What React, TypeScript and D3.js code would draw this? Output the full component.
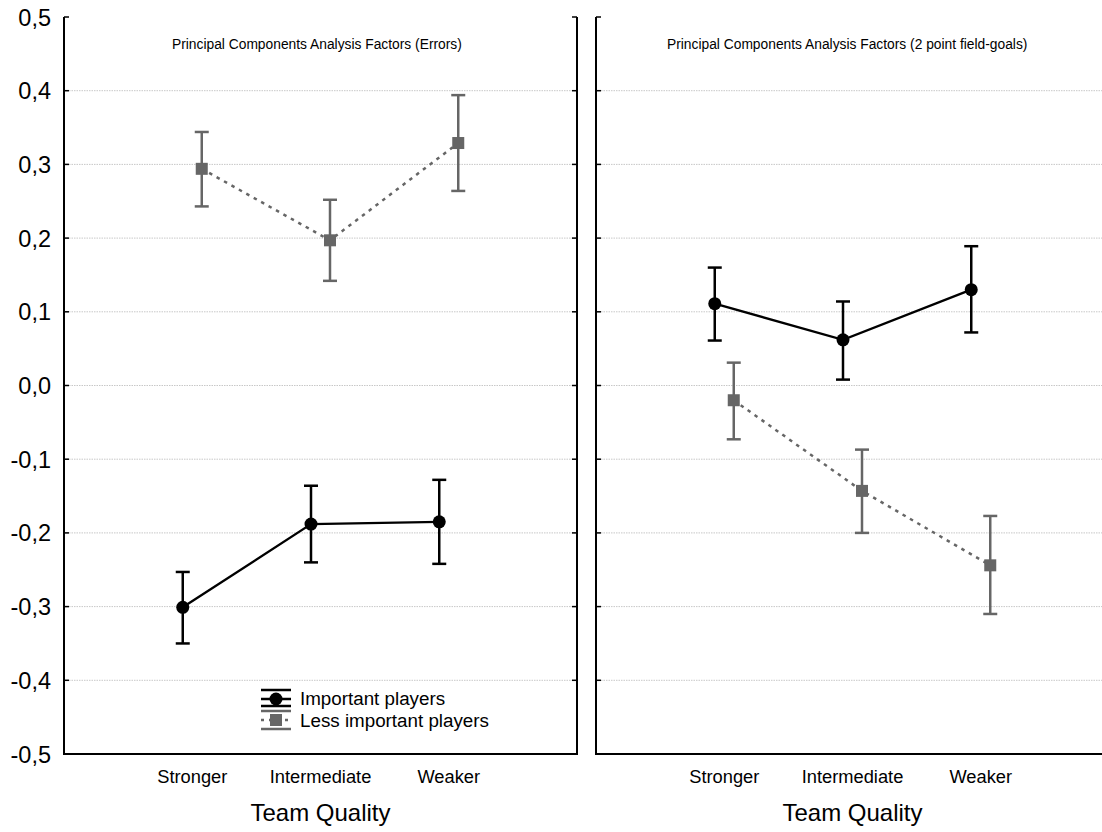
import * as d3 from "d3";

// categories & values
const categories = ["Stronger", "Intermediate", "Weaker"];

// left panel: Errors
const errImpMean = [-0.301, -0.188, -0.185];
const errImpLow = [-0.35, -0.24, -0.242];
const errImpHigh = [-0.253, -0.136, -0.128];
const errLessMean = [0.294, 0.197, 0.329];
const errLessLow = [0.243, 0.142, 0.264];
const errLessHigh = [0.344, 0.252, 0.394];

// right panel: 2 point field-goals
const fgImpMean = [0.111, 0.062, 0.13];
const fgImpLow = [0.061, 0.008, 0.072];
const fgImpHigh = [0.16, 0.114, 0.189];
const fgLessMean = [-0.02, -0.143, -0.244];
const fgLessLow = [-0.073, -0.2, -0.31];
const fgLessHigh = [0.031, -0.087, -0.177];

const yTicks = [-0.5, -0.4, -0.3, -0.2, -0.1, 0, 0.1, 0.2, 0.3, 0.4, 0.5];

const FONT = "'Liberation Sans', Arial, sans-serif";
const GRAY = "#666666";

const W = 1102;
const H = 832;
const top = 17;
const bottom = 754;

const y = d3.scaleLinear().domain([-0.5, 0.5]).range([bottom, top]);
const fmt = (v) => d3.format(".1f")(v).replace(".", ",").replace("−", "-");

type Series = { mean: number[]; low: number[]; high: number[] };

const Panel = ({ x0, x1, title, titleX, imp, less, rightBorder, legend }) => {
  const x = d3.scalePoint().domain(categories).range([x0, x1]).padding(1);
  const off = 9.5;
  const impX = (i) => x(categories[i]) - off;
  const lessX = (i) => x(categories[i]) + off;
  const line = d3.line<number>();
  const impPath = line(imp.mean.map((v, i) => [impX(i), y(v)]));
  const lessPath = line(less.mean.map((v, i) => [lessX(i), y(v)]));

  const bars = (s: Series, px, color) =>
    s.mean.map((_, i) => (
      <g key={i} stroke={color} strokeWidth={2.5}>
        <line x1={px(i)} x2={px(i)} y1={y(s.low[i])} y2={y(s.high[i])} />
        <line x1={px(i) - 7} x2={px(i) + 7} y1={y(s.low[i])} y2={y(s.low[i])} />
        <line x1={px(i) - 7} x2={px(i) + 7} y1={y(s.high[i])} y2={y(s.high[i])} />
      </g>
    ));

  return (
    <g>
      {/* gridlines */}
      {yTicks.filter((t) => Math.abs(t) < 0.45).map((t) => (
        <line key={t} x1={x0} x2={x1} y1={y(t)} y2={y(t)} stroke="#c8c8c8" strokeWidth={1} strokeDasharray="1.5 1" />
      ))}
      {/* axes */}
      <line x1={x0} x2={x0} y1={top} y2={bottom} stroke="#000" strokeWidth={2} />
      <line x1={x0 - 1} x2={x1 + 1} y1={bottom} y2={bottom} stroke="#000" strokeWidth={2} />
      {yTicks.map((t) => (
        <line key={"t" + t} x1={x0} x2={x0 + 5} y1={y(t)} y2={y(t)} stroke="#000" strokeWidth={1.5} />
      ))}
      {rightBorder && (
        <g>
          <line x1={x1} x2={x1} y1={top} y2={bottom} stroke="#000" strokeWidth={2} />
          {yTicks.map((t) => (
            <line key={"r" + t} x1={x1 - 5} x2={x1} y1={y(t)} y2={y(t)} stroke="#000" strokeWidth={1.5} />
          ))}
        </g>
      )}
      <text x={titleX} y={49} textAnchor="start" fontFamily={FONT} fontSize={13.8} fill="#000">
        {title}
      </text>

      {/* series */}
      {bars(imp, impX, "#000")}
      {bars(less, lessX, GRAY)}
      <path d={impPath} fill="none" stroke="#000" strokeWidth={2.3} />
      <path d={lessPath} fill="none" stroke={GRAY} strokeWidth={2.5} strokeDasharray="3.5 5" />
      {imp.mean.map((v, i) => (
        <circle key={i} cx={impX(i)} cy={y(v)} r={6.5} fill="#000" />
      ))}
      {less.mean.map((v, i) => (
        <rect key={i} x={lessX(i) - 6} y={y(v) - 6} width={12} height={12} fill={GRAY} />
      ))}

      {/* category labels */}
      {categories.map((c) => (
        <text key={c} x={x(c)} y={783} textAnchor="middle" fontFamily={FONT} fontSize={18.3} fill="#000">
          {c}
        </text>
      ))}
      <text x={(x0 + x1) / 2} y={821} textAnchor="middle" fontFamily={FONT} fontSize={24} fill="#000">
        Team Quality
      </text>

      {legend && (
        <g>
          <g stroke="#000" strokeWidth={2.5}>
            <line x1={261} x2={291} y1={690} y2={690} />
            <line x1={261} x2={291} y1={699} y2={699} />
            <line x1={261} x2={291} y1={706} y2={706} />
          </g>
          <circle cx={276} cy={699} r={6.5} fill="#000" />
          <g stroke={GRAY} strokeWidth={2.5}>
            <line x1={261} x2={291} y1={711} y2={711} />
            <line x1={261} x2={291} y1={729} y2={729} />
            <line x1={261} x2={291} y1={720} y2={720} strokeDasharray="3 5" />
          </g>
          <rect x={270} y={714} width={12} height={12} fill={GRAY} />
          <text x={300} y={705} fontFamily={FONT} fontSize={18.8} fill="#000">Important players</text>
          <text x={300} y={727} fontFamily={FONT} fontSize={18.8} fill="#000">Less important players</text>
        </g>
      )}
    </g>
  );
};

export default function App() {
  return (
    <svg width={W} height={H} style={{ position: "absolute", left: 0, top: 0, background: "#fff" }}>
      <rect width={W} height={H} fill="#fff" />
      {yTicks.map((t) => (
        <text key={t} x={51} y={y(t) + 8.5} textAnchor="end" fontFamily={FONT} fontSize={23.5} fill="#000">
          {fmt(t)}
        </text>
      ))}
      <Panel
        x0={64}
        x1={577}
        title="Principal Components Analysis Factors (Errors)"
        titleX={172}
        imp={{ mean: errImpMean, low: errImpLow, high: errImpHigh }}
        less={{ mean: errLessMean, low: errLessLow, high: errLessHigh }}
        rightBorder={true}
        legend={true}
      />
      <Panel
        x0={596}
        x1={1109}
        title="Principal Components Analysis Factors (2 point field-goals)"
        titleX={667}
        imp={{ mean: fgImpMean, low: fgImpLow, high: fgImpHigh }}
        less={{ mean: fgLessMean, low: fgLessLow, high: fgLessHigh }}
        rightBorder={false}
        legend={false}
      />
    </svg>
  );
}
